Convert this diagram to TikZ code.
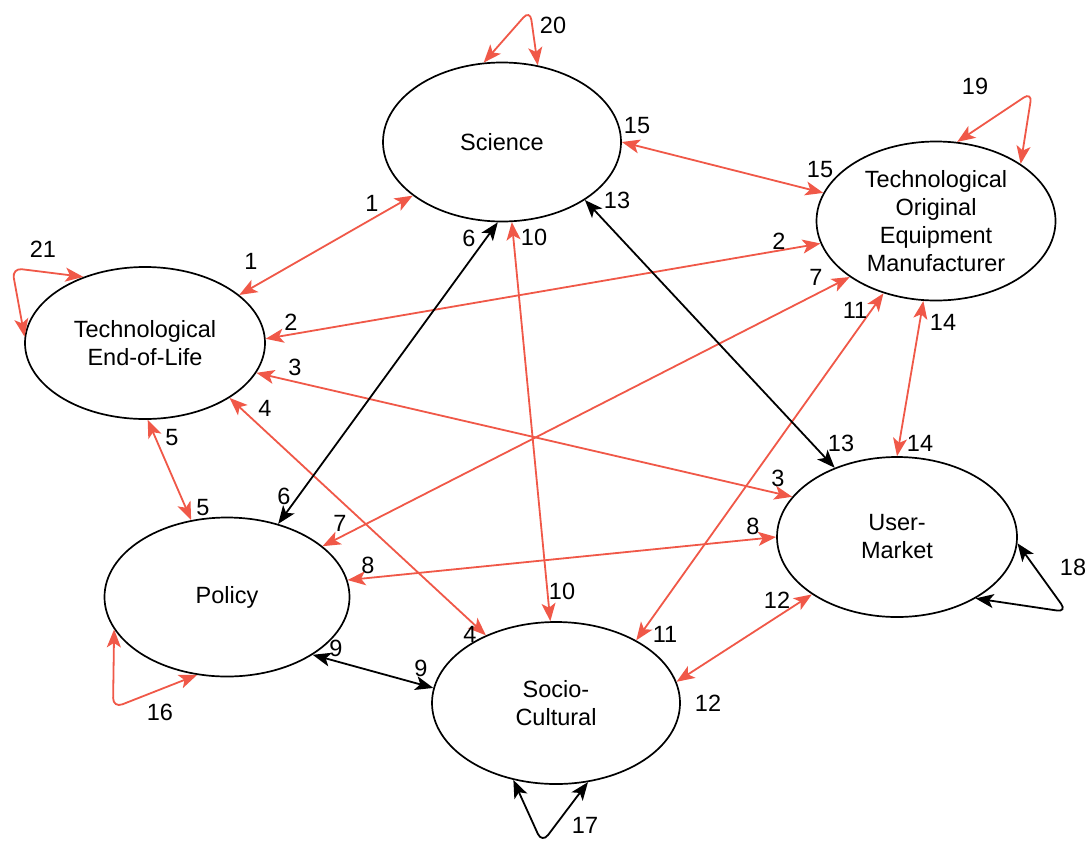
\documentclass[tikz,border=0pt]{standalone}
\usepackage{fontspec}
\setmainfont{Liberation Sans}
\usetikzlibrary{arrows.meta,shapes.geometric}
\definecolor{linkred}{RGB}{240,88,72}
\tikzset{
  actor/.style={ellipse, draw=black, line width=1.7pt, inner sep=0pt, align=center,
    font=\fontsize{23.5}{28}\selectfont},
  headtip/.tip={Stealth[length=18pt,width=14pt,inset=4.5pt]},
  redlink/.style={draw=linkred, line width=1.8pt, headtip-headtip},
  blacklink/.style={draw=black, line width=1.8pt, headtip-headtip},
  loopcorner/.style={rounded corners=10pt},
  num/.style={inner sep=0pt, font=\fontsize{23.5}{26}\selectfont}
}
\begin{document}
\begin{tikzpicture}[x=1pt,y=-1pt]
\useasboundingbox (0,0) rectangle (1086,846);
\fill[white] (0,0) rectangle (1086,846);

% actors
\node[actor, minimum width=238pt, minimum height=159pt] (sci) at (502,142) {Science};
\node[actor, minimum width=239pt, minimum height=159pt] (oem) at (936,221) {Technological\\Original\\Equipment\\Manufacturer};
\node[actor, minimum width=240pt, minimum height=152pt] (eol) at (145,343) {Technological\\End-of-Life};
\node[actor, minimum width=245pt, minimum height=159pt] (pol) at (227,597) {Policy};
\node[actor, minimum width=248pt, minimum height=162pt] (soc) at (556,703) {Socio-\\Cultural};
\node[actor, minimum width=240pt, minimum height=160pt] (usr) at (897,537) {User-\\Market};

% loop corners
\coordinate (c16) at (113,708);
\coordinate (c17) at (542,843);
\coordinate (c18) at (1067,612);
\coordinate (c19) at (1032,92);
\coordinate (c20) at (530,10);
\coordinate (c21) at (12,268);

% links between actors
\draw[redlink] (eol.27) -- (sci.211);
\draw[redlink] (eol.2) -- (oem.191);
\draw[redlink] (eol.345.5) -- (usr.159.5);
\draw[redlink] (eol.327.5) -- (soc.136);
\draw[redlink] (eol.272) -- (pol.115);
\draw[blacklink] (sci.267) -- (pol.55);
\draw[redlink] (oem.213.5) -- (pol.28);
\draw[redlink] (usr.180) -- (pol.8);
\draw[blacklink] (pol.326) -- (soc.173);
\draw[redlink] (sci.277) -- (soc.94);
\draw[redlink] (oem.234.5) -- (soc.38.5);
\draw[redlink] (usr.214.5) -- (soc.10.5);
\draw[blacklink] (sci.325.5) -- (usr.132.5);
\draw[redlink] (oem.261) -- (usr.90);
\draw[redlink] (sci.0) -- (oem.166);

% self links
\draw[redlink, loopcorner] (pol.196) -- (c16) -- (pol.249.5);
\draw[blacklink, loopcorner] (soc.241.5) -- (c17) -- (soc.292);
\draw[blacklink, loopcorner] (usr.357) -- (c18) -- (usr.322);
\draw[redlink, loopcorner] (oem.75) -- (c19) -- (oem.34.5);
\draw[redlink, loopcorner] (sci.103.5) -- (c20) -- (sci.65);
\draw[redlink, loopcorner] (eol.133) -- (c21) -- (eol.177);

% link numbers
\node[num] (n1a) at (372,203) {1};
\node[num] (n1b) at (251,261) {1};
\node[num] (n2a) at (291,322) {2};
\node[num] (n2b) at (779,241) {2};
\node[num] (n3a) at (295,367) {3};
\node[num] (n3b) at (778,478) {3};
\node[num] (n4a) at (265,408) {4};
\node[num] (n4b) at (470,634) {4};
\node[num] (n5a) at (172,438) {5};
\node[num] (n5b) at (203,508) {5};
\node[num] (n6a) at (469,238) {6};
\node[num] (n6b) at (284,496) {6};
\node[num] (n7a) at (816,277) {7};
\node[num] (n7b) at (340,523) {7};
\node[num] (n8a) at (753,526) {8};
\node[num] (n8b) at (368,565) {8};
\node[num] (n9a) at (336,648) {9};
\node[num] (n9b) at (421,668) {9};
\node[num] (n10a) at (534,237) {10};
\node[num] (n10b) at (562,591) {10};
\node[num] (n11a) at (855,310) {11};
\node[num] (n11b) at (665,634) {11};
\node[num] (n12a) at (777,600) {12};
\node[num] (n12b) at (708,703) {12};
\node[num] (n13a) at (617,200) {13};
\node[num] (n13b) at (841,443) {13};
\node[num] (n14a) at (943,322) {14};
\node[num] (n14b) at (920,443) {14};
\node[num] (n15a) at (637,126) {15};
\node[num] (n15b) at (820,170) {15};
\node[num] (n16) at (160,712) {16};
\node[num] (n17) at (585,825) {17};
\node[num] (n18) at (1073,567) {18};
\node[num] (n19) at (975,86) {19};
\node[num] (n20) at (553,25) {20};
\node[num] (n21) at (43,249) {21};
\end{tikzpicture}
\end{document}
